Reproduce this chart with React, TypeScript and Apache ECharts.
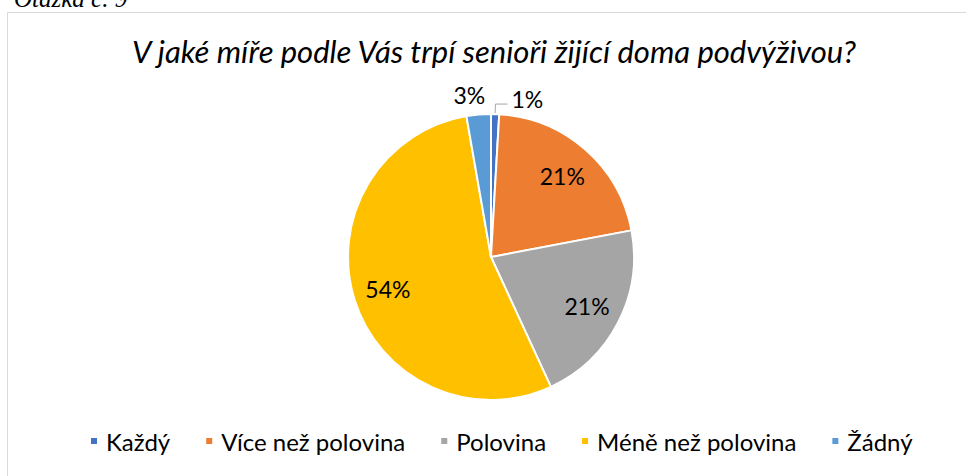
import React, { useEffect, useRef } from "react";
import * as echarts from "echarts";

const caption = "Otázka č. 9";
const chartTitle = "V jaké míře podle Vás trpí senioři žijící doma podvýživou?";
const categories = ["Každý", "Více než polovina", "Polovina", "Méně než polovina", "Žádný"];
const counts = [1, 23, 23, 59, 3];
const colors = ["#4472C4", "#ED7D31", "#A5A5A5", "#FFC000", "#5B9BD5"];
const insideLabelSlices = [false, true, true, true, false];

const pct = (p: any) => Math.round(p.percent) + "%";

export default function App() {
  const ref = useRef<HTMLDivElement>(null);
  useEffect(() => {
    if (!ref.current) return;
    const chart = echarts.init(ref.current, undefined, { renderer: "svg" });
    const labelFont = { fontFamily: "Lato", fontSize: 23, color: "#000" };
    const mainData = categories.map((name, i) => {
      const item: any = { name, value: counts[i], itemStyle: { color: colors[i] } };
      if (insideLabelSlices[i]) {
        item.label = { show: false };
        item.labelLine = { show: false };
      } else if (i === 0) {
        item.label = { show: true, position: "outside", distanceToLabelLine: 4 };
        item.labelLine = { show: true, length: 10, length2: 12, lineStyle: { color: "#A6A6A6", width: 1 } };
      } else {
        item.label = { show: true, position: "outside", distanceToLabelLine: 0 };
        item.labelLine = { show: false, length: 17, length2: 0 };
      }
      return item;
    });
    const overlayData = categories.map((name, i) => ({
      name,
      value: counts[i],
      itemStyle: { color: "rgba(0,0,0,0)", borderWidth: 0 },
      label: { show: insideLabelSlices[i] },
    }));
    chart.setOption({
      animation: false,
      color: colors,
      title: {
        text: chartTitle,
        left: 489,
        top: 30,
        textAlign: "center",
        textStyle: { fontFamily: "Lato", fontStyle: "italic", fontWeight: "normal", fontSize: 31, color: "#000" },
      },
      graphic: [
        {
          type: "rect",
          z: -1,
          shape: { x: 7.5, y: 12.5, width: 975, height: 475 },
          style: { fill: "#fff", stroke: "#D9D9D9", lineWidth: 1 },
          silent: true,
        },
        {
          type: "text",
          x: 14,
          y: 11,
          style: {
            text: caption,
            fontFamily: "Liberation Serif",
            fontStyle: "italic",
            fontSize: 25,
            fill: "#000",
            verticalAlign: "bottom",
          },
        },
      ],
      legend: {
        data: categories,
        left: 84,
        top: 424,
        icon: "rect",
        itemWidth: 8,
        itemHeight: 8,
        itemGap: 34,
        textStyle: { fontFamily: "Lato", fontSize: 24, color: "#000", padding: [0, 0, 0, 3] },
      },
      series: [
        {
          type: "pie",
          center: [491, 257],
          radius: 143,
          startAngle: 90,
          clockwise: true,
          avoidLabelOverlap: false,
          itemStyle: { borderColor: "#fff", borderWidth: 2 },
          label: { ...labelFont, formatter: pct },
          emphasis: { disabled: true },
          labelLayout: (p: any) => (p.dataIndex === 4 ? { dx: 8, dy: -3 } : p.dataIndex === 0 ? { dy: -5 } : {}),
          data: mainData,
        },
        {
          type: "pie",
          center: [491, 257],
          radius: [67, 143],
          startAngle: 90,
          clockwise: true,
          silent: true,
          avoidLabelOverlap: false,
          emphasis: { disabled: true },
          label: { position: "inside", ...labelFont, formatter: pct },
          labelLine: { show: false },
          data: overlayData,
        },
      ],
    });
    return () => chart.dispose();
  }, []);
  return (
    <div
      ref={ref}
      style={{ position: "absolute", left: 0, top: 0, width: 966, height: 476, background: "#fff" }}
    />
  );
}
